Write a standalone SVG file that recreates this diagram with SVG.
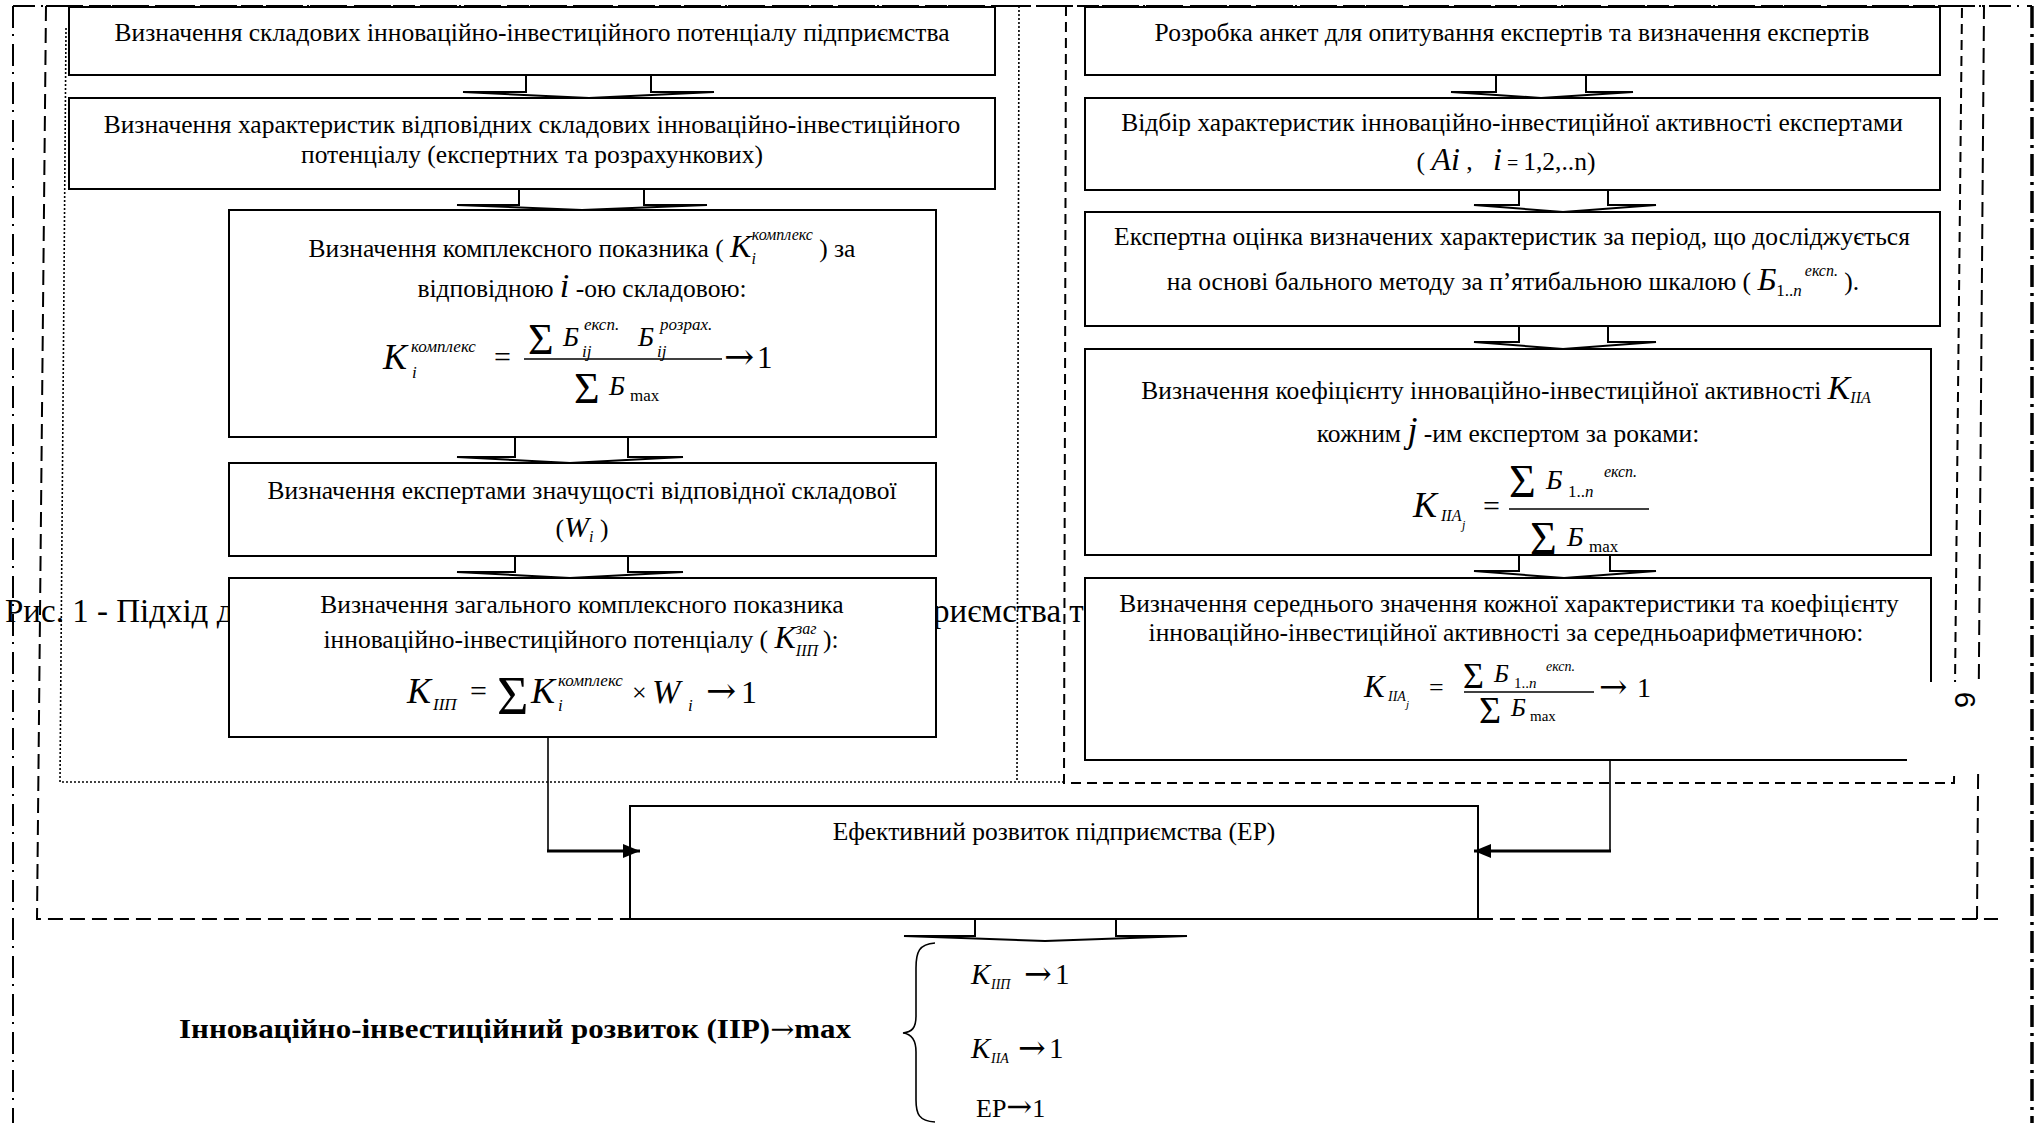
<svg xmlns="http://www.w3.org/2000/svg" width="2035" height="1123" viewBox="0 0 2035 1123">
<style>
.t{font-family:"Liberation Serif","Times New Roman",serif;font-size:25.5px;fill:#000}
.f{font-family:"Liberation Serif","Times New Roman",serif;fill:#000}
.fi{font-family:"Liberation Serif","Times New Roman",serif;font-style:italic;fill:#000}
.ar{font-family:"DejaVu Serif",serif;font-style:normal;font-weight:normal;fill:#000}
.i{font-style:italic}
.box{fill:#fff;stroke:#000;stroke-width:2}
.bar{stroke:#000;stroke-width:1.5}
.barr{fill:#fff;stroke:#000;stroke-width:2;stroke-linejoin:miter}
.conn{fill:none;stroke:#000;stroke-width:1.6}
.connh{fill:none;stroke:#000;stroke-width:3}
.dd{fill:none;stroke:#000;stroke-width:2;stroke-dasharray:22 6 2 8}
.ddk{fill:none;stroke:#000;stroke-width:3.5;stroke-dasharray:22 6 3 6}
.dl{fill:none;stroke:#000;stroke-width:2;stroke-dasharray:15 7}
.ds{fill:none;stroke:#000;stroke-width:2;stroke-dasharray:10 6}
.dt{fill:none;stroke:#000;stroke-width:1.6;stroke-dasharray:2 2}
</style>
<defs>
<marker id="ah" markerUnits="userSpaceOnUse" markerWidth="18" markerHeight="16" refX="17" refY="8" orient="auto">
<path d="M0,1 L17,8 L0,15 z" fill="#000"/>
</marker>
</defs>
<rect width="2035" height="1123" fill="#fff"/>

<g id="frames">
<path class="dd" d="M13,6 V1123 M13,6 H2032"/>
<path class="ddk" d="M2032,6 V1123"/>
<path class="dl" d="M46,6 H1984 L1977,919 M46,6 L37,919 H1998"/>
<path class="ds" d="M1066,6 L1064,783 H1954 L1962,6"/>
<path class="dt" d="M66,28 L60,782 H1064 M1019,6 L1017,782"/>
</g>

<g id="caption">
<text class="f" x="5" y="622" font-size="33">Рис. 1 - Підхід д</text>
<text class="f" x="933" y="622" font-size="33">риємства т</text>
</g>

<g id="node-l1">
<rect class="box" x="69" y="7" width="926" height="68"/>
<text class="t" x="532" y="41" text-anchor="middle">Визначення складових інноваційно-інвестиційного потенціалу підприємства</text>
</g>
<g id="node-l2">
<rect class="box" x="69" y="98" width="926" height="91"/>
<text class="t" x="532" y="133" text-anchor="middle">Визначення характеристик відповідних складових інноваційно-інвестиційного</text>
<text class="t" x="532" y="163" text-anchor="middle">потенціалу (експертних та розрахункових)</text>
</g>
<g id="node-l3">
<rect class="box" x="229" y="210" width="707" height="227"/>
<text class="t" x="582" y="257" text-anchor="middle">Визначення комплексного показника ( <tspan class="i" font-size="32">K</tspan><tspan class="i" font-size="16" dy="7">i</tspan><tspan class="i" font-size="16" dx="-4" dy="-24">комплекс</tspan><tspan dy="17"> ) за</tspan></text>
<text class="t" x="582" y="297" text-anchor="middle">відповідною <tspan class="i" font-size="34">i</tspan> -ою складовою:</text>
<text class="fi" x="383" y="369" font-size="36">K</text>
<text class="fi" x="411" y="352" font-size="17">комплекс</text>
<text class="fi" x="412" y="378" font-size="17">i</text>
<text class="f" x="494" y="367" font-size="30">=</text>
<line class="bar" x1="524" y1="359" x2="722" y2="359"/>
<text class="f" x="528" y="354" font-size="44">Σ</text>
<text class="fi" x="563" y="346" font-size="27">Б</text>
<text class="fi" x="584" y="330" font-size="17">експ.</text>
<text class="fi" x="582" y="357" font-size="17">ij</text>
<text class="fi" x="638" y="346" font-size="27">Б</text>
<text class="fi" x="660" y="330" font-size="17">розрах.</text>
<text class="fi" x="657" y="357" font-size="17">ij</text>
<text class="f" x="574" y="403" font-size="44">Σ</text>
<text class="fi" x="609" y="395" font-size="27">Б</text>
<text class="f" x="630" y="401" font-size="17">max</text>
<text class="ar" x="724" y="369" font-size="36">→</text>
<text class="f" x="757" y="368" font-size="31">1</text>
</g>
<g id="node-l4">
<rect class="box" x="229" y="463" width="707" height="93"/>
<text class="t" x="582" y="499" text-anchor="middle">Визначення експертами значущості відповідної складової</text>
<text class="t" x="582" y="537" text-anchor="middle">(<tspan class="i" font-size="30">W</tspan><tspan class="i" font-size="16" dy="5">i</tspan><tspan dy="-5"> )</tspan></text>
</g>
<g id="node-l5">
<rect class="box" x="229" y="578" width="707" height="159"/>
<text class="t" x="582" y="613" text-anchor="middle">Визначення загального комплексного показника</text>
<text class="t" x="581" y="648" text-anchor="middle">інноваційно-інвестиційного потенціалу ( <tspan class="i" font-size="32">K</tspan><tspan class="i" font-size="16" dy="8">ІІП</tspan><tspan class="i" font-size="16" dx="-22" dy="-22">заг</tspan><tspan dy="14"> ):</tspan></text>
<text class="fi" x="407" y="703" font-size="36">K</text>
<text class="fi" x="433" y="710" font-size="17">ІІП</text>
<text class="f" x="470" y="701" font-size="30">=</text>
<text class="f" x="497" y="714" font-size="54">Σ</text>
<text class="fi" x="531" y="703" font-size="36">K</text>
<text class="fi" x="558" y="686" font-size="17">комплекс</text>
<text class="fi" x="558" y="711" font-size="17">i</text>
<text class="f" x="632" y="701" font-size="26">×</text>
<text class="fi" x="652" y="703" font-size="34">W</text>
<text class="fi" x="688" y="711" font-size="17">i</text>
<text class="ar" x="706" y="703" font-size="36">→</text>
<text class="f" x="741" y="703" font-size="32">1</text>
</g>

<g id="node-r1">
<rect class="box" x="1085" y="7" width="855" height="68"/>
<text class="t" x="1512" y="41" text-anchor="middle">Розробка анкет для опитування експертів та визначення експертів</text>
</g>
<g id="node-r2">
<rect class="box" x="1085" y="98" width="855" height="92"/>
<text class="t" x="1512" y="131" text-anchor="middle">Відбір характеристик інноваційно-інвестиційної активності експертами</text>
<text class="t" x="1506" y="170" text-anchor="middle">( <tspan class="i" font-size="32">Ai</tspan> , <tspan class="i" font-size="32" dx="14">i</tspan><tspan font-size="20"> = </tspan>1,2,..n)</text>
</g>
<g id="node-r3">
<rect class="box" x="1085" y="212" width="855" height="114"/>
<text class="t" x="1512" y="245" text-anchor="middle">Експертна оцінка визначених характеристик за період, що досліджується</text>
<text class="t" x="1513" y="290" text-anchor="middle">на основі бального методу за п’ятибальною шкалою ( <tspan class="i" font-size="32">Б</tspan><tspan font-size="17" dy="6">1..<tspan class="i">n</tspan></tspan><tspan class="i" font-size="16" dx="3" dy="-20">експ.</tspan><tspan dy="14"> ).</tspan></text>
</g>
<g id="node-r4">
<rect class="box" x="1085" y="349" width="846" height="206"/>
<text class="t" x="1506" y="399" text-anchor="middle">Визначення коефіцієнту інноваційно-інвестиційної активності <tspan class="i" font-size="34">K</tspan><tspan class="i" font-size="16" dy="4">ІІА</tspan></text>
<text class="t" x="1508" y="442" text-anchor="middle">кожним <tspan class="i" font-size="36">j</tspan> -им експертом за роками:</text>
<text class="fi" x="1413" y="517" font-size="36">K</text>
<text class="fi" x="1441" y="521" font-size="16">ІІА</text>
<text class="fi" x="1462" y="529" font-size="12">j</text>
<text class="f" x="1483" y="516" font-size="30">=</text>
<line class="bar" x1="1509" y1="509" x2="1649" y2="509"/>
<text class="f" x="1509" y="497" font-size="46">Σ</text>
<text class="fi" x="1546" y="489" font-size="28">Б</text>
<text class="f" x="1568" y="497" font-size="17">1..<tspan class="i">n</tspan></text>
<text class="fi" x="1604" y="477" font-size="16">експ.</text>
<text class="f" x="1530" y="554" font-size="46">Σ</text>
<text class="fi" x="1567" y="546" font-size="28">Б</text>
<text class="f" x="1589" y="552" font-size="17">max</text>
</g>
<g id="node-r5">
<rect class="box" x="1085" y="578" width="846" height="182"/>
<text class="t" x="1509" y="612" text-anchor="middle">Визначення середнього значення кожної характеристики та коефіцієнту</text>
<text class="t" x="1506" y="641" text-anchor="middle">інноваційно-інвестиційної активності за середньоарифметичною:</text>
<text class="fi" x="1364" y="697" font-size="31">K</text>
<text class="fi" x="1388" y="701" font-size="14">ІІА</text>
<text class="fi" x="1406" y="708" font-size="11">j</text>
<text class="f" x="1429" y="696" font-size="26">=</text>
<line class="bar" x1="1464" y1="692" x2="1594" y2="692"/>
<text class="f" x="1463" y="688" font-size="36">Σ</text>
<text class="fi" x="1494" y="682" font-size="25">Б</text>
<text class="f" x="1514" y="688" font-size="15">1..<tspan class="i">n</tspan></text>
<text class="fi" x="1546" y="671" font-size="14">експ.</text>
<text class="f" x="1479" y="723" font-size="38">Σ</text>
<text class="fi" x="1511" y="716" font-size="25">Б</text>
<text class="f" x="1530" y="721" font-size="15">max</text>
<text class="ar" x="1599" y="698" font-size="34">→</text>
<text class="f" x="1637" y="697" font-size="28">1</text>
</g>

<g id="node-ep">
<rect class="box" x="630" y="806" width="848" height="113"/>
<text class="t" x="1054" y="840" text-anchor="middle">Ефективний розвиток підприємства (ЕР)</text>
</g>

<g id="node-iir">
<text class="f" x="179" y="1038" font-size="28" font-weight="bold" textLength="672" lengthAdjust="spacingAndGlyphs">Інноваційно-інвестиційний розвиток (ІІР)<tspan class="ar" font-size="26">→</tspan>max</text>
<path class="conn" stroke-width="2" d="M935,943 C919,944 916,952 916,968 L916,1016 C916,1028 912,1032 903,1033 C912,1034 916,1040 916,1052 L916,1100 C916,1114 919,1121 935,1122"/>
<text class="fi" x="971" y="984" font-size="29">K</text>
<text class="fi" x="991" y="989" font-size="14">ІІП</text>
<text class="ar" x="1024" y="985" font-size="33">→</text>
<text class="f" x="1055" y="984" font-size="29">1</text>
<text class="fi" x="971" y="1058" font-size="29">K</text>
<text class="fi" x="991" y="1063" font-size="14">ІІА</text>
<text class="ar" x="1018" y="1059" font-size="33">→</text>
<text class="f" x="1049" y="1058" font-size="29">1</text>
<text class="f" x="976" y="1117" font-size="26">ЕР<tspan class="ar" font-size="31">→</tspan>1</text>
</g>

<g id="connectors">
<path class="barr" d="M526,76 V92 H463 L589,98 L714,92 H651 V76"/>
<path class="barr" d="M519,190 V205 H457 L582,210 L707,205 H644 V190"/>
<path class="barr" d="M515,438 V457 H457 L570,463 L683,457 H628 V438"/>
<path class="barr" d="M515,557 V572 H457 L570,578 L683,572 H628 V557"/>
<path class="barr" d="M1496,76 V92 H1451 L1541,98 L1633,92 H1586 V76"/>
<path class="barr" d="M1519,191 V205 H1474 L1563,212 L1656,205 H1608 V191"/>
<path class="barr" d="M1519,327 V342 H1474 L1563,349 L1656,342 H1608 V327"/>
<path class="barr" d="M1519,556 V571 H1474 L1564,578 L1656,571 H1610 V556"/>
<path class="barr" d="M975,920 V936 H904 L1045,941 L1187,936 H1116 V920"/>
<path class="conn" d="M548,737 V851"/>
<path class="connh" d="M547,851 H640" marker-end="url(#ah)"/>
<path class="conn" d="M1610,760 V851"/>
<path class="connh" d="M1611,851 H1474" marker-end="url(#ah)"/>
</g>

<g id="page-number">
<rect x="1907" y="682" width="83" height="88" fill="#fff"/>
<text x="0" y="0" transform="translate(1975,700) rotate(-90)" text-anchor="middle" font-family="Liberation Sans, Arial, sans-serif" font-size="29" fill="#000">9</text>
</g>
</svg>
